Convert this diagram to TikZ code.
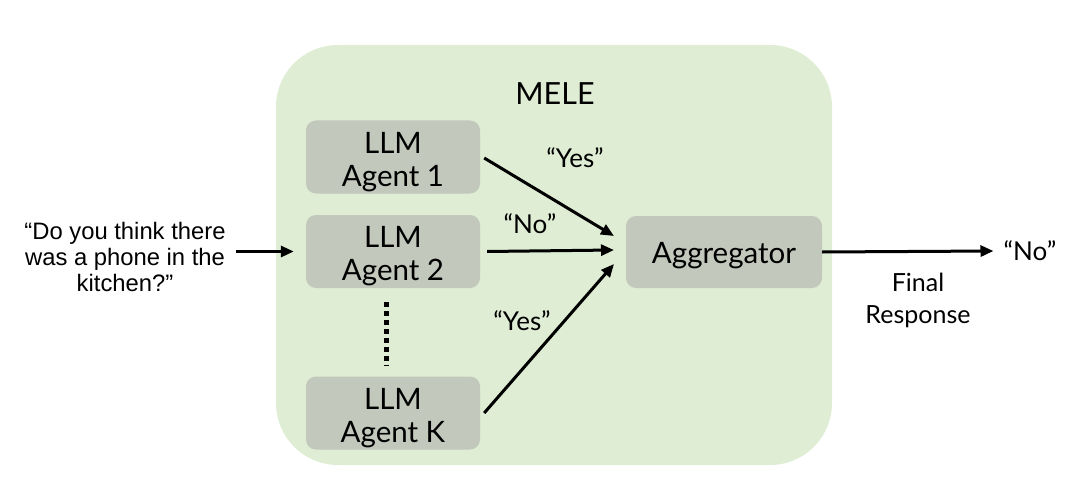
\documentclass[tikz,border=0pt]{standalone}
\usepackage{fontspec}
\setmainfont{Liberation Sans}
\newfontfamily\boxfont{Lato}
\usetikzlibrary{arrows.meta}
\definecolor{melegreen}{HTML}{DEEDD3}
\definecolor{agentgrey}{HTML}{C2C8BC}
\tikzset{
  agentbox/.style={fill=agentgrey, rounded corners=10pt, minimum width=174pt, minimum height=73pt, inner sep=0pt},
  boxtext/.style={align=center, font=\boxfont\fontsize{29.5}{33}\selectfont, inner sep=0pt, yshift=-5pt},
  conn/.style={line width=3pt, -{Triangle[length=13pt,width=11pt]}},
  lbl/.style={font=\boxfont\fontsize{26}{30}\selectfont, inner sep=0pt},
}
\begin{document}
\begin{tikzpicture}[x=1pt,y=-1pt]
\useasboundingbox (0,0) rectangle (1076,492);
\fill[melegreen, rounded corners=62pt] (276,45) rectangle (832,465);
\node[font=\boxfont\fontsize{30.5}{32}\selectfont] (mele) at (555,94) {MELE};
\node[agentbox] (a1) at (393,157) {};
\node[agentbox] (a2) at (393,251.5) {};
\node[agentbox] (ak) at (393,413) {};
\node[agentbox, minimum width=196pt, minimum height=72pt] (agg) at (724,252) {};
\node[boxtext] (a1t) at (a1.center) {LLM\\Agent 1};
\node[boxtext] (a2t) at (a2.center) {LLM\\Agent 2};
\node[boxtext] (akt) at (ak.center) {LLM\\Agent K};
\node[boxtext, yshift=1pt] (aggt) at (agg.center) {Aggregator};
\coordinate (d1) at (386,302);
\coordinate (d2) at (386,366);
\draw[line width=5pt, dash pattern=on 5pt off 4pt] (d1) -- (d2);
\coordinate (t1) at (614,236);
\coordinate (t2) at (614,250);
\coordinate (t3) at (614,264);
\draw[conn] ([xshift=4pt]a1.east) ++(0,1) -- (t1);
\draw[conn] ([xshift=7pt]a2.east) -- (t2);
\draw[conn] ([xshift=4pt,yshift=0pt]ak.east) -- (t3);
\node[lbl] (y1) at (575,158) {“Yes”};
\node[lbl] (n1) at (530,224) {“No”};
\node[lbl] (y2) at (522,321) {“Yes”};
\node[align=center, font=\fontsize{23.8}{26}\selectfont, inner sep=0pt] (q) at (125,257) {“Do you think there\\was a phone in the\\kitchen?”};
\draw[conn] ([xshift=10pt]q.east |- a2.west) ++(0,0) coordinate (qs) -- ([xshift=-12pt]a2.west);
\node[lbl] (out) at (1030,251) {“No”};
\draw[conn] (agg.east) -- ([xshift=-10pt]out.west);
\node[lbl, align=center, font=\boxfont\fontsize{25}{32}\selectfont] (fr) at (918,300) {Final\\Response};
\end{tikzpicture}
\end{document}
